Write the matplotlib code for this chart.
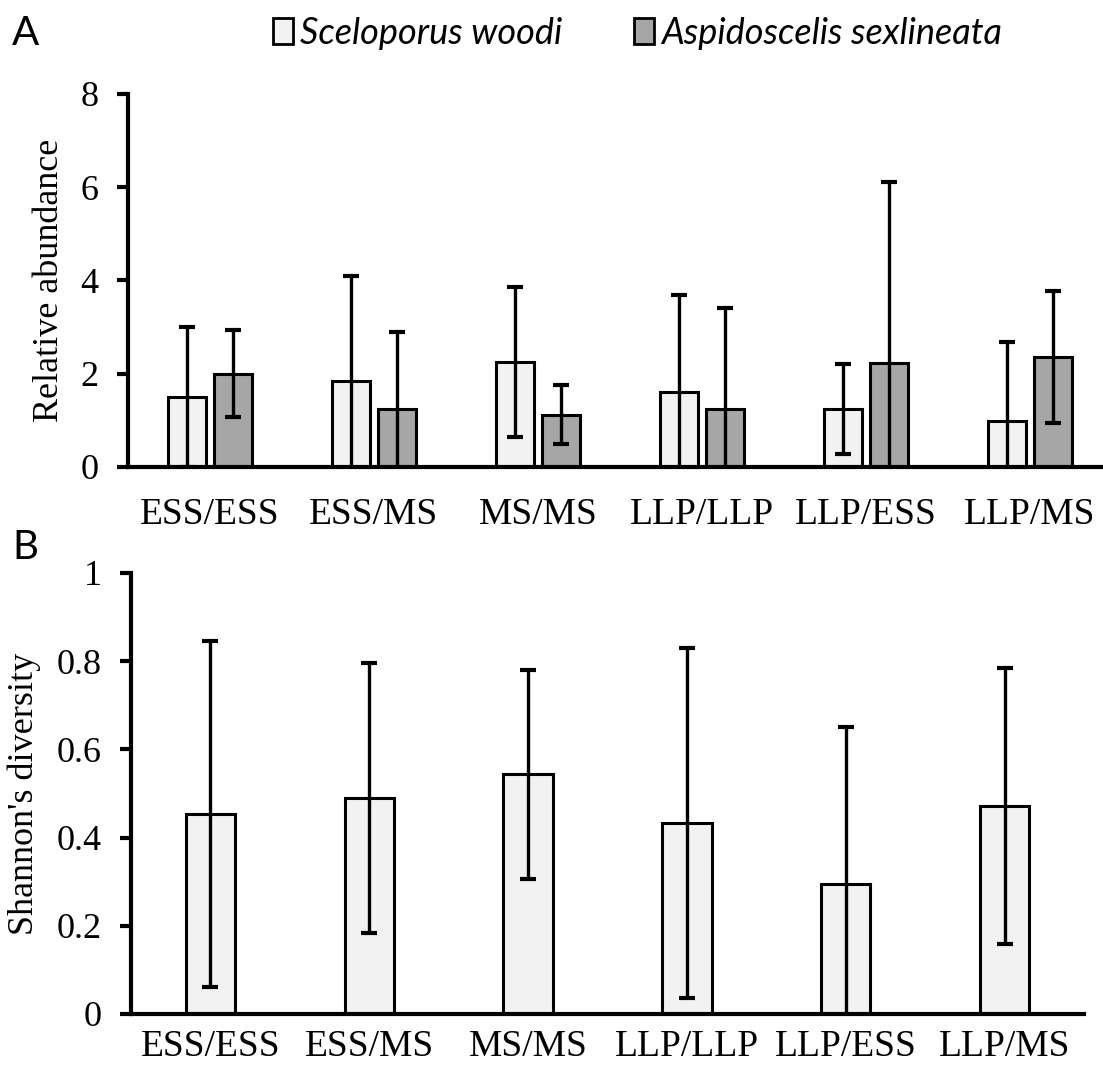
import matplotlib.pyplot as plt
import numpy as np
from matplotlib.patches import Patch

sites = ['ESS/ESS', 'ESS/MS', 'MS/MS', 'LLP/LLP', 'LLP/ESS', 'LLP/MS']

# panel A: relative abundance
woodi_mean = [1.50, 1.85, 2.25, 1.61, 1.24, 0.99]
woodi_err = [1.50, 2.25, 1.60, 2.08, 0.97, 1.69]
sexlin_mean = [2.00, 1.25, 1.12, 1.24, 2.23, 2.36]
sexlin_err = [0.93, 1.65, 0.63, 2.17, 3.89, 1.42]

# panel B: Shannon's diversity
shannon_mean = [0.453, 0.490, 0.544, 0.433, 0.295, 0.472]
shannon_err = [0.392, 0.306, 0.237, 0.397, 0.356, 0.313]

light = '#f2f2f2'
dark = '#a6a6a6'
serif = 'Liberation Serif'

fig = plt.figure(figsize=(11.03, 10.74), dpi=100)
axA = fig.add_axes([0.116, 0.5652, 0.892, 0.3473])
axB = fig.add_axes([0.1188, 0.0559, 0.864, 0.4106])

x = np.arange(len(sites))
err_kw = dict(fmt='none', ecolor='black', elinewidth=2.4, capsize=6, capthick=3, zorder=3)

w = 0.23
off = 0.14
axA.bar(x - off, woodi_mean, w, color=light, edgecolor='black', linewidth=2.2, zorder=2)
axA.bar(x + off, sexlin_mean, w, color=dark, edgecolor='black', linewidth=2.2, zorder=2)
axA.errorbar(x - off, woodi_mean, yerr=woodi_err, **err_kw)
axA.errorbar(x + off, sexlin_mean, yerr=sexlin_err, **err_kw)
axA.set_ylim(0, 8)
axA.set_yticks([0, 2, 4, 6, 8])
axA.set_ylabel('Relative abundance', fontsize=26, family=serif)
axA.yaxis.set_label_coords(-0.063, 0.5)

axB.bar(x, shannon_mean, 0.31, color=light, edgecolor='black', linewidth=2.2, zorder=2)
axB.errorbar(x, shannon_mean, yerr=shannon_err, **err_kw)
axB.set_ylim(0, 1)
axB.set_yticks([0, 0.2, 0.4, 0.6, 0.8, 1])
axB.set_yticklabels(['0', '0.2', '0.4', '0.6', '0.8', '1'])
axB.set_ylabel("Shannon's diversity", fontsize=26, family=serif)
axB.yaxis.set_label_coords(-0.094, 0.5)

for ax, xpad in ((axA, 22), (axB, 11)):
    ax.set_xlim(-0.5, 5.5)
    ax.set_xticks(x)
    ax.set_xticklabels(sites)
    for s in ('top', 'right'):
        ax.spines[s].set_visible(False)
    for s in ('left', 'bottom'):
        ax.spines[s].set_linewidth(3)
    ax.tick_params(axis='y', direction='out', length=8, width=3, labelsize=26, pad=13)
    ax.tick_params(axis='x', length=0, labelsize=27, pad=xpad)
    for lab in ax.get_xticklabels() + ax.get_yticklabels():
        lab.set_family(serif)

handles = [Patch(facecolor=light, edgecolor='black', linewidth=2),
           Patch(facecolor=dark, edgecolor='black', linewidth=2)]
fig.legend(handles, ['Sceloporus woodi', 'Aspidoscelis sexlineata'],
           loc='center', bbox_to_anchor=(0.578, 0.969), ncol=2, frameon=False,
           prop={'family': 'Lato', 'style': 'italic', 'size': 26},
           handlelength=0.55, handleheight=0.75, handletextpad=0.2, columnspacing=2.0)

fig.text(0.011, 0.969, 'A', fontsize=29, family='Lato', va='center', ha='left')
fig.text(0.011, 0.490, 'B', fontsize=29, family='Lato', va='center', ha='left')

fig.savefig('out.png', dpi=100)
